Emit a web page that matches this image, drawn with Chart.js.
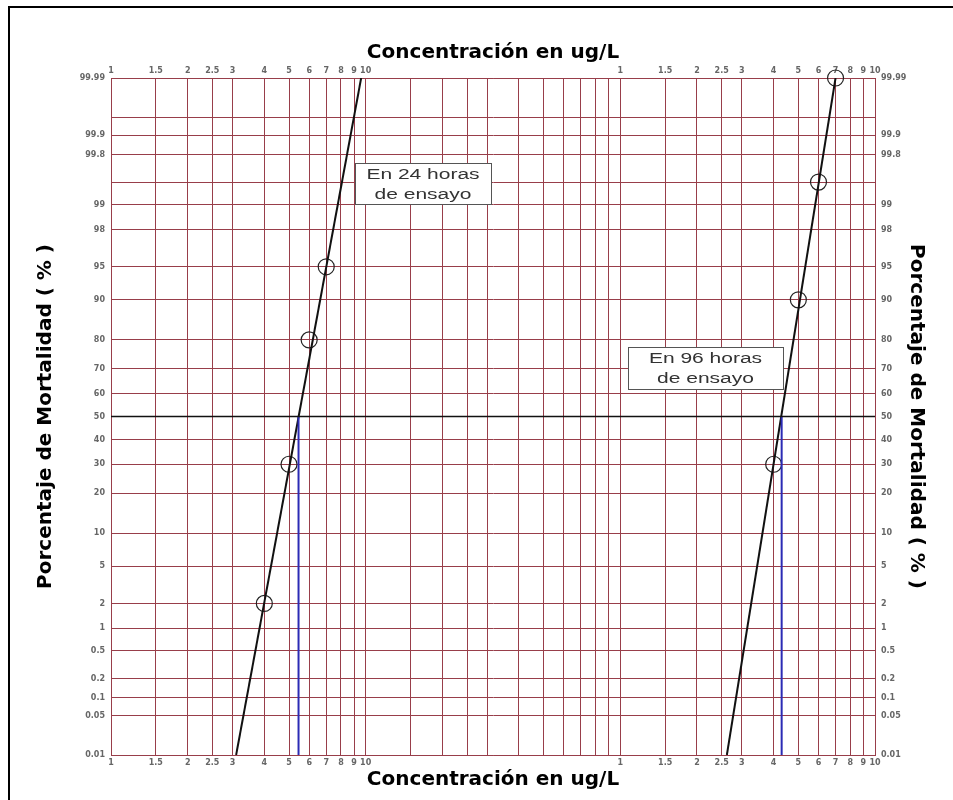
<!DOCTYPE html>
<html>
<head>
<meta charset="utf-8">
<title>Porcentaje de Mortalidad vs Concentración</title>
<script src="https://cdn.jsdelivr.net/npm/chart.js@4.4.1/dist/chart.umd.min.js"></script>
<style>
  html, body { margin: 0; padding: 0; background: #fff; }
  canvas { display: block; }
</style>
</head>
<body>
<canvas id="probitChart" width="953" height="800"></canvas>
<script>
// log-probit paper: 3-cycle log concentration axis, probability mortality axis
const xGrid = [1, 1.5, 2, 2.5, 3, 4, 5, 6, 7, 8, 9,
               10, 15, 20, 25, 30, 40, 50, 60, 70, 80, 90,
               100, 150, 200, 250, 300, 400, 500, 600, 700, 800, 900, 1000];
const yGrid = [0.01, 0.05, 0.1, 0.2, 0.5, 1, 2, 5, 10, 20, 30, 40, 50, 60, 70, 80,
               90, 95, 98, 99, 99.5, 99.8, 99.9, 99.95, 99.99];
const yUnlabeled = [99.5, 99.95];

// 24 h test
const conc24 = [4, 5, 6, 7];
const mort24 = [2, 30, 80, 95];
const fitConc24 = [3.1, 9.6];
const fitMort24 = [0.01, 99.99];
const lc50_24 = 5.45;

// 96 h test
const conc96 = [400, 500, 600, 700];
const mort96 = [30, 90, 99.5, 99.99];
const fitConc96 = [262, 700];
const fitMort96 = [0.01, 99.99];
const lc50_96 = 430;

const midX = [1, 1000];
const midY = [50, 50];

// inverse normal CDF (Acklam)
function probit(p) {
  const a = [-3.969683028665376e+01, 2.209460984245205e+02, -2.759285104469687e+02,
             1.383577518672690e+02, -3.066479806614716e+01, 2.506628277459239e+00];
  const b = [-5.447609879822406e+01, 1.615858368580409e+02, -1.556989798598866e+02,
             6.680131188771972e+01, -1.328068155288572e+01];
  const c = [-7.784894002430293e-03, -3.223964580411365e-01, -2.400758277161838e+00,
             -2.549732539343734e+00, 4.374664141464968e+00, 2.938163982698783e+00];
  const d = [7.784695709041462e-03, 3.224671290700398e-01, 2.445134137142996e+00,
             3.754408661907416e+00];
  const pl = 0.02425;
  let q, r;
  if (p < pl) {
    q = Math.sqrt(-2 * Math.log(p));
    return (((((c[0]*q+c[1])*q+c[2])*q+c[3])*q+c[4])*q+c[5]) / ((((d[0]*q+d[1])*q+d[2])*q+d[3])*q+1);
  }
  if (p <= 1 - pl) {
    q = p - 0.5; r = q * q;
    return (((((a[0]*r+a[1])*r+a[2])*r+a[3])*r+a[4])*r+a[5])*q / (((((b[0]*r+b[1])*r+b[2])*r+b[3])*r+b[4])*r+1);
  }
  q = Math.sqrt(-2 * Math.log(1 - p));
  return -(((((c[0]*q+c[1])*q+c[2])*q+c[3])*q+c[4])*q+c[5]) / ((((d[0]*q+d[1])*q+d[2])*q+d[3])*q+1);
}

// probability scale: values in %, spaced by their normal quantile
class ProbitScale extends Chart.Scale {
  determineDataLimits() {
    this.min = this.options.min;
    this.max = this.options.max;
  }
  buildTicks() {
    return yGrid.map(v => ({value: v}));
  }
  configure() {
    super.configure();
    this._zMin = probit(this.min / 100);
    this._zMax = probit(this.max / 100);
  }
  getLabelForValue(v) {
    return String(v);
  }
  getPixelForValue(v) {
    const z = probit(v / 100);
    return this.getPixelForDecimal((z - this._zMin) / (this._zMax - this._zMin));
  }
  getValueForPixel(px) {
    return this.getDecimalForPixel(px);
  }
}
ProbitScale.id = 'probit';
ProbitScale.defaults = {};
Chart.register(ProbitScale);

const GRID = 'rgb(152, 62, 74)';
const tickFont = {family: 'DejaVu Sans', size: 8, weight: 'bold'};
const titleFont = {family: 'DejaVu Sans', size: 20, weight: 'bold'};

function xLabel(v) {
  if (v <= 10) return String(v);
  if (v >= 100) return String(v / 100);
  return '';
}

function xAxis(position, titlePad, size) {
  return {
    type: 'logarithmic',
    position: position,
    min: 1,
    max: 1000,
    grid: {display: position === 'bottom', color: GRID, lineWidth: 1, drawTicks: false},
    border: {display: true, color: GRID, width: 1},
    ticks: {
      autoSkip: false, maxRotation: 0, minRotation: 0,
      padding: position === 'top' ? 2 : 3,
      color: '#666', font: tickFont,
      callback: v => xLabel(v)
    },
    afterBuildTicks: s => { s.ticks = xGrid.map(v => ({value: v})); },
    afterFit: s => { s.height = size; },
    title: {display: true, text: 'Concentración en ug/L', color: '#000', font: titleFont, padding: titlePad}
  };
}

function yAxis(position, titlePad, size) {
  return {
    type: 'probit',
    position: position,
    min: 0.01,
    max: 99.99,
    grid: {display: position === 'left', color: GRID, lineWidth: 1, drawTicks: false},
    border: {display: true, color: GRID, width: 1},
    ticks: {
      autoSkip: false, padding: 6,
      color: '#666', font: tickFont,
      callback: v => yUnlabeled.includes(v) ? '' : String(v)
    },
    afterFit: s => { s.width = size; },
    title: {display: true, text: 'Porcentaje de Mortalidad ( % )', color: '#000', font: titleFont, padding: titlePad}
  };
}

const pts = (xs, ys) => xs.map((x, i) => ({x: x, y: ys[i]}));

function refLine(xs, ys, color, width) {
  return {data: pts(xs, ys), showLine: true, borderColor: color, borderWidth: width, pointRadius: 0};
}

function markers(xs, ys) {
  return {
    data: pts(xs, ys), showLine: false, clip: false,
    pointRadius: 8, pointBorderWidth: 1.2,
    pointBorderColor: '#222', pointBackgroundColor: 'rgba(0,0,0,0)'
  };
}

// white page with the frame line top and left
const paper = {
  id: 'paper',
  beforeDraw(chart) {
    const {ctx, width, height} = chart;
    ctx.save();
    ctx.fillStyle = '#fff';
    ctx.fillRect(0, 0, width, height);
    ctx.strokeStyle = '#000';
    ctx.lineWidth = 2;
    ctx.strokeRect(9, 7, width, height);
    ctx.restore();
  }
};

// text boxes naming each test, offsets from the plot area corner
const notes = [
  {lines: ['En 24 horas', 'de ensayo'], left: 244, top: 85, w: 136, h: 41},
  {lines: ['En 96 horas', 'de ensayo'], left: 517, top: 269, w: 155, h: 42}
];

const noteBoxes = {
  id: 'noteBoxes',
  afterDatasetsDraw(chart) {
    const {ctx, chartArea} = chart;
    ctx.save();
    notes.forEach(n => {
      const x = chartArea.left + n.left;
      const y = chartArea.top + n.top;
      ctx.fillStyle = '#fff';
      ctx.fillRect(x, y, n.w, n.h);
      ctx.strokeStyle = '#555';
      ctx.lineWidth = 1;
      ctx.strokeRect(x + 0.5, y + 0.5, n.w, n.h);
      ctx.fillStyle = '#333';
      ctx.font = '14px "Liberation Sans", Arial, sans-serif';
      ctx.textAlign = 'center';
      ctx.textBaseline = 'middle';
      n.lines.forEach((t, i) => {
        ctx.save();
        ctx.translate(x + n.w / 2, y + 12.5 + i * 19.5);
        ctx.scale(1.5, 1);
        ctx.fillText(t, 0, 0);
        ctx.restore();
      });
    });
    ctx.restore();
  }
};

new Chart(document.getElementById('probitChart'), {
  type: 'scatter',
  data: {
    datasets: [
      refLine(midX, midY, '#111', 1.5),
      refLine([lc50_24, lc50_24], [0.01, 50], '#2b2bb5', 2),
      refLine([lc50_96, lc50_96], [0.01, 50], '#2b2bb5', 2),
      refLine(fitConc24, fitMort24, '#111', 2),
      refLine(fitConc96, fitMort96, '#111', 2),
      markers(conc24, mort24),
      markers(conc96, mort96)
    ]
  },
  options: {
    responsive: false,
    animation: false,
    layout: {padding: 0},
    plugins: {legend: {display: false}, tooltip: {enabled: false}},
    scales: {
      x: xAxis('bottom', {top: 0, bottom: 8}, 45),
      xTop: xAxis('top', {top: 41, bottom: 0}, 78),
      y: yAxis('left', {top: 34, bottom: 0}, 111),
      yRight: yAxis('right', {top: 25, bottom: 0}, 78)
    }
  },
  plugins: [paper, noteBoxes]
});
</script>
</body>
</html>
